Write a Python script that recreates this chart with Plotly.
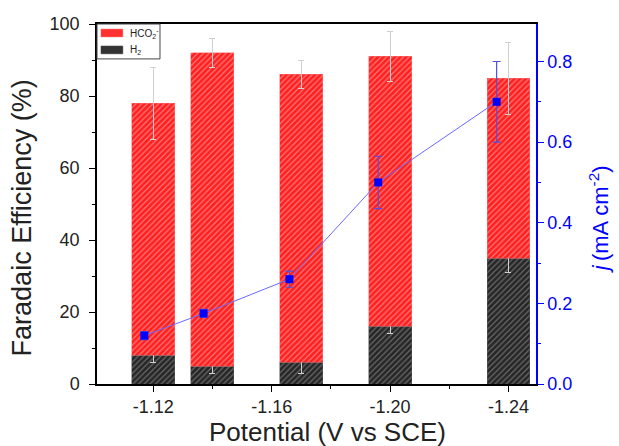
import plotly.graph_objects as go

potential = [-1.12, -1.14, -1.17, -1.20, -1.24]
fe_h2 = [8, 5, 6, 16, 35]
fe_h2_err = [2, 2, 3, 2, 4]
fe_total = [78, 92, 86, 91, 85]
fe_hco2 = [t - h for t, h in zip(fe_total, fe_h2)]
fe_hco2_err = [10, 4, 4, 7, 10]

j_potential = [-1.117, -1.137, -1.166, -1.196, -1.236]
j_values = [0.12, 0.175, 0.26, 0.50, 0.70]
j_err = [0.01, 0.01, 0.02, 0.065, 0.10]

legend_names = ["HCO<sub>2</sub><sup>-</sup>", "H<sub>2</sub>"]

FONT = "Arial, Liberation Sans, sans-serif"
RED_BG, RED_FG = "#ff1f1f", "#ff7a7a"
BLK_BG, BLK_FG = "#262626", "#6a6a6a"
bar_w = 0.0145

fig = go.Figure()
fig.add_trace(go.Bar(
    x=potential, y=fe_h2, width=bar_w, name=legend_names[1], showlegend=False,
    marker=dict(color=BLK_BG, line=dict(width=0.5, color="#555555"),
                pattern=dict(shape="/", fillmode="replace", bgcolor=BLK_BG,
                             fgcolor=BLK_FG, size=4, solidity=0.3)),
    error_y=dict(type="data", array=fe_h2_err, color="#d0d0d0", thickness=1, width=3),
))
fig.add_trace(go.Bar(
    x=potential, y=fe_hco2, width=bar_w, name=legend_names[0], showlegend=False,
    marker=dict(color=RED_BG, line=dict(width=0.5, color="#ff7070"),
                pattern=dict(shape="/", fillmode="replace", bgcolor=RED_BG,
                             fgcolor=RED_FG, size=4, solidity=0.3)),
    error_y=dict(type="data", array=fe_hco2_err, color="#d0d0d0", thickness=1, width=3),
))
fig.add_trace(go.Scatter(
    x=j_potential, y=j_values, yaxis="y2", mode="lines+markers", showlegend=False,
    line=dict(color="#6a6aff", width=1),
    marker=dict(symbol="square", size=8, color="#0000ff"),
    error_y=dict(type="data", array=j_err, color="#5050e0", thickness=1.2, width=4),
))

# manual legend (paper coordinates of the plotting area)
shapes = [
    dict(type="rect", xref="paper", yref="paper", x0=0.0, x1=0.1435, y0=0.903, y1=1.0,
         line=dict(color="#444444", width=1), fillcolor="white", layer="above"),
    dict(type="rect", xref="paper", yref="paper", x0=0.009, x1=0.059, y0=0.964, y1=0.986,
         line=dict(color="#ff7070", width=0.5), fillcolor="#ff3030", layer="above"),
    dict(type="rect", xref="paper", yref="paper", x0=0.009, x1=0.059, y0=0.917, y1=0.939,
         line=dict(color="#555555", width=0.5), fillcolor="#333333", layer="above"),
]
annotations = [
    dict(text=legend_names[0], xref="paper", yref="paper", x=0.07, y=0.975,
         xanchor="left", yanchor="middle", showarrow=False,
         font=dict(size=10, family=FONT, color="#222222")),
    dict(text=legend_names[1], xref="paper", yref="paper", x=0.07, y=0.928,
         xanchor="left", yanchor="middle", showarrow=False,
         font=dict(size=10, family=FONT, color="#222222")),
    dict(text="Potential (V vs SCE)", xref="paper", yref="paper", x=0.526, y=-0.132,
         xanchor="center", yanchor="middle", showarrow=False,
         font=dict(size=26, family=FONT, color="#222222")),
    dict(text="Faradaic Efficiency (%)", xref="paper", yref="paper", x=-0.170, y=0.461,
         xanchor="center", yanchor="middle", showarrow=False, textangle=-90,
         font=dict(size=27, family=FONT, color="#222222")),
    dict(text="<i>j</i>\u2009(mA cm<sup>-2</sup>)", xref="paper", yref="paper", x=1.144, y=0.458,
         xanchor="center", yanchor="middle", showarrow=False, textangle=-90,
         font=dict(size=22, family=FONT, color="#0000ff")),
]

fig.update_layout(
    width=619, height=446,
    margin=dict(l=97, r=83, t=24, b=62),
    barmode="stack",
    plot_bgcolor="white", paper_bgcolor="white",
    font=dict(family=FONT, color="#222222"),
    showlegend=False,
    shapes=shapes,
    annotations=annotations,
    xaxis=dict(
        range=[-1.101, -1.2493], tickvals=[-1.12, -1.16, -1.20, -1.24],
        ticktext=["-1.12", "-1.16", "-1.20", "-1.24"],
        ticks="outside", ticklen=6, tickcolor="black", showline=True, linecolor="black",
        linewidth=1.5, mirror=True, showgrid=False, zeroline=False,
        tickfont=dict(size=18, family=FONT, color="#222222"),
        minor=dict(tickvals=[-1.14, -1.18, -1.22], ticks="outside", ticklen=3, tickcolor="black"),
    ),
    yaxis=dict(
        range=[0, 100], dtick=20, ticks="outside", ticklen=6, tickcolor="black",
        showline=True, linecolor="black", linewidth=1.5, showgrid=False, zeroline=False,
        tickfont=dict(size=18, family=FONT, color="#222222"), ticklabelstandoff=6,
        minor=dict(dtick=10, ticks="outside", ticklen=3, tickcolor="black"),
    ),
    yaxis2=dict(
        overlaying="y", side="right", range=[0, 0.893], dtick=0.2, tickformat=".1f",
        ticks="outside", ticklen=6, tickcolor="#0000ff",
        showline=True, linecolor="#0000ff", linewidth=1.5, showgrid=False, zeroline=False,
        tickfont=dict(size=18, family=FONT, color="#0000ff"),
        minor=dict(dtick=0.1, ticks="outside", ticklen=3, tickcolor="#0000ff"),
    ),
)

fig.write_html("out.html")
